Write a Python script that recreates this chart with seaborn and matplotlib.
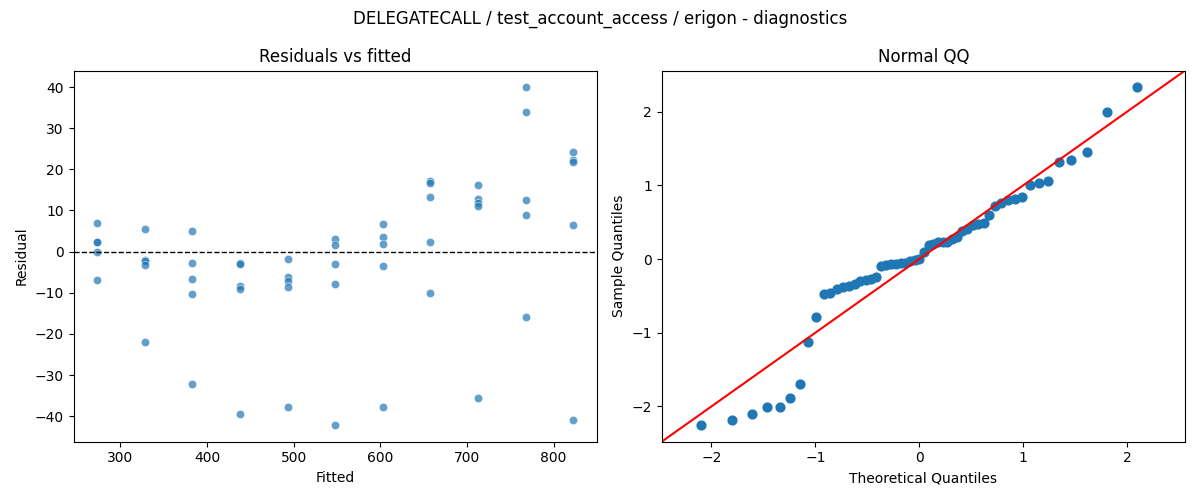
from statistics import NormalDist
import numpy as np
import pandas as pd
import seaborn as sns
import matplotlib
matplotlib.use("Agg")
import matplotlib.pyplot as plt
from matplotlib.ticker import MultipleLocator

# =========================================================
# DATA
# =========================================================

title = "DELEGATECALL / test_account_access / erigon - diagnostics"

fitted_levels = [273.5, 328.4, 383.3, 438.2, 493.1, 548.0,
                 602.9, 657.8, 712.7, 767.6, 822.5]

# five residuals per fitted level
residuals_by_level = [
    [6.9, 2.4, 2.3, 0.0, -6.9],
    [5.4, -2.0, -2.2, -3.2, -22.0],
    [4.9, -2.8, -6.7, -10.3, -32.1],
    [-2.7, -3.0, -8.3, -9.1, -39.4],
    [-1.8, -6.2, -7.2, -8.5, -37.7],
    [3.1, 1.5, -3.0, -7.9, -42.1],
    [6.6, 3.6, 1.8, -3.5, -37.7],
    [17.1, 16.6, 13.2, 2.3, -10.1],
    [16.1, 12.8, 11.9, 11.2, -35.5],
    [39.9, 34.0, 12.5, 8.8, -15.9],
    [24.1, 22.2, 21.9, 6.4, -40.9],
]

# =========================================================
# BUILD TABLES
# =========================================================

rows = []
for fit, res in zip(fitted_levels, residuals_by_level):
    for r in res:
        rows.append({"Fitted": fit, "Residual": r})
diag = pd.DataFrame(rows)

# normal QQ: standardized residuals vs normal plotting positions
resid = np.sort(diag["Residual"].to_numpy())
n = len(resid)
sample_q = (resid - resid.mean()) / resid.std()
theo_q = np.array([NormalDist().inv_cdf(i / (n + 1)) for i in range(1, n + 1)])
qq = pd.DataFrame({"theoretical": theo_q, "sample": sample_q})

# =========================================================
# PLOT
# =========================================================

fig, (ax1, ax2) = plt.subplots(1, 2, figsize=(12, 5), dpi=100)

sns.scatterplot(data=diag, x="Fitted", y="Residual", ax=ax1, alpha=0.7)
ax1.axhline(0, color="black", linestyle="--", linewidth=1)
ax1.yaxis.set_major_locator(MultipleLocator(10))
ax1.set_title("Residuals vs fitted")

sns.scatterplot(data=qq, x="theoretical", y="sample", ax=ax2,
                color="C0", edgecolor="C0", linewidth=1, s=40)
# 45 degree reference line over the shared limits
xl, yl = ax2.get_xlim(), ax2.get_ylim()
lo, hi = min(xl[0], yl[0]), max(xl[1], yl[1])
ax2.plot([lo, hi], [lo, hi], color="red")
ax2.set_xlim(lo, hi)
ax2.set_ylim(lo, hi)
ax2.set_title("Normal QQ")
ax2.set_xlabel("Theoretical Quantiles")
ax2.set_ylabel("Sample Quantiles")

fig.suptitle(title)
fig.tight_layout()
fig.savefig("out.png")
